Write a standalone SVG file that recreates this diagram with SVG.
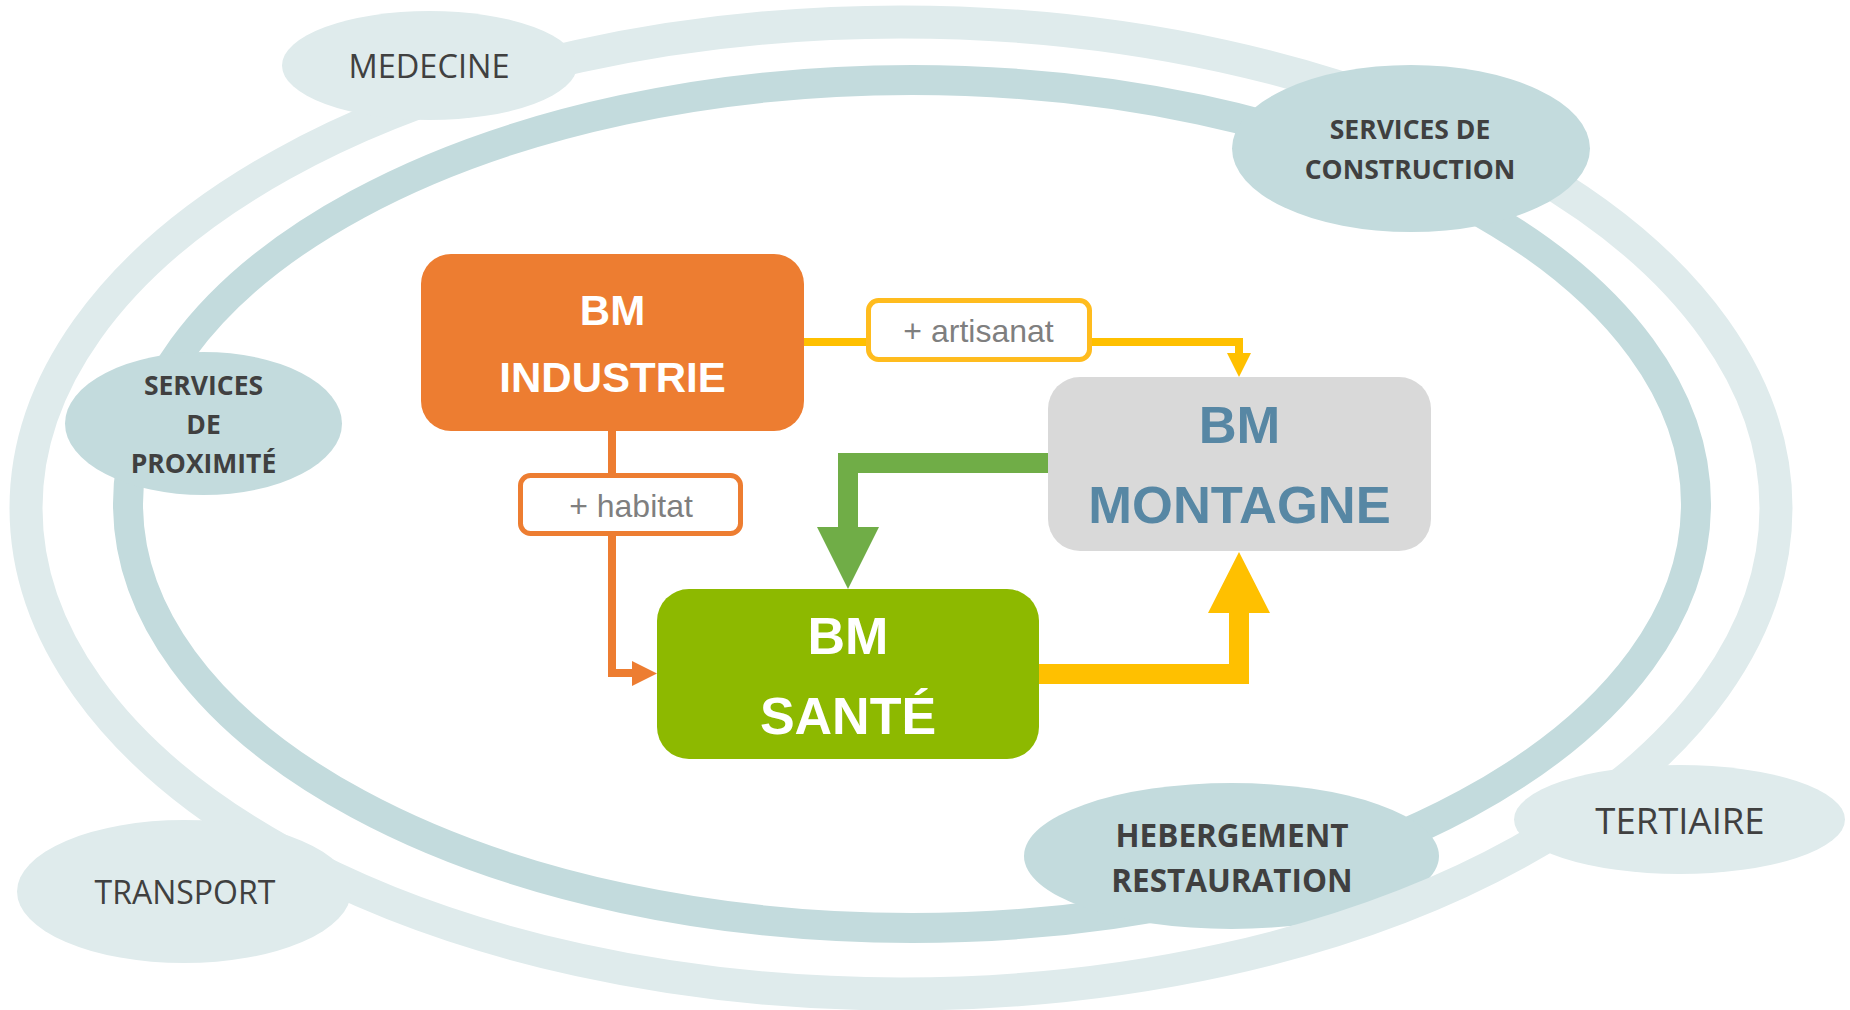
<svg xmlns="http://www.w3.org/2000/svg" width="1850" height="1010" viewBox="0 0 1850 1010">
  <style>
    .ringIn { fill: none; stroke: #C3DBDD; stroke-width: 30; }
    .ringOut { fill: none; stroke: #DFEBEC; stroke-width: 33; }
    .bubDark { fill: #C3DBDD; }
    .bubLight { fill: #DFEBEC; }
    .bt { font-family: "Open Sans", "Noto Sans", "DejaVu Sans", sans-serif; fill: #404040; text-anchor: middle; }
    .bb { font-weight: bold; }
    .box { font-family: "Liberation Sans", Arial, sans-serif; font-weight: bold; text-anchor: middle; }
    .lbl { font-family: "Liberation Sans", Arial, sans-serif; fill: #7F7F7F; text-anchor: middle; font-size: 32px; }
  </style>
  <rect width="1850" height="1010" fill="#FFFFFF"/>

  <g id="ring-inner">
    <ellipse class="ringIn" cx="912" cy="504" rx="784" ry="424"/>
  </g>
  <g id="hebergement">
    <ellipse class="bubDark" cx="1231.5" cy="856" rx="207.5" ry="73"/>
    <text class="bt bb" x="1232" y="847" font-size="31.5">HEBERGEMENT</text>
    <text class="bt bb" x="1232" y="892" font-size="31.5">RESTAURATION</text>
  </g>
  <g id="proximite">
    <ellipse class="bubDark" cx="203.5" cy="423.5" rx="138.5" ry="71.5"/>
    <text class="bt bb" x="203.5" y="395" font-size="26.5">SERVICES</text>
    <text class="bt bb" x="203.5" y="434" font-size="26.5">DE</text>
    <text class="bt bb" x="203.5" y="473" font-size="26.5">PROXIMITÉ</text>
  </g>
  <g id="ring-outer">
    <ellipse class="ringOut" cx="901" cy="508" rx="875" ry="486"/>
  </g>
  <g id="medecine">
    <ellipse class="bubLight" cx="429.5" cy="65.5" rx="147.5" ry="54.5"/>
    <text class="bt" x="429" y="78" font-size="32.5">MEDECINE</text>
  </g>
  <g id="transport">
    <ellipse class="bubLight" cx="184" cy="891.5" rx="167" ry="71.5"/>
    <text class="bt" x="185" y="904" font-size="32">TRANSPORT</text>
  </g>
  <g id="tertiaire">
    <ellipse class="bubLight" cx="1679.5" cy="819.5" rx="165.5" ry="54.5"/>
    <text class="bt" x="1680" y="834" font-size="36.5">TERTIAIRE</text>
  </g>
  <g id="construction">
    <ellipse class="bubDark" cx="1411" cy="148.5" rx="179" ry="83.5"/>
    <text class="bt bb" x="1410" y="139" font-size="26.5">SERVICES DE</text>
    <text class="bt bb" x="1410" y="179" font-size="26.5">CONSTRUCTION</text>
  </g>

  <g id="connectors">
    <!-- industrie -> montagne via artisanat -->
    <line x1="804" y1="342" x2="868" y2="342" stroke="#FFC000" stroke-width="8"/>
    <path d="M1090,342 H1239 V355" fill="none" stroke="#FFC000" stroke-width="8"/>
    <polygon points="1227,353 1251,353 1239,377" fill="#FFC000"/>
    <!-- industrie -> sante via habitat -->
    <line x1="612" y1="430" x2="612" y2="475" stroke="#ED7D31" stroke-width="8"/>
    <path d="M612,534 V673 H634" fill="none" stroke="#ED7D31" stroke-width="8"/>
    <polygon points="632,661 632,686 657,673.5" fill="#ED7D31"/>
    <!-- montagne -> sante -->
    <polygon points="1048,453 838,453 838,527 817,527 848,589 879,527 858,527 858,473 1048,473" fill="#70AD47"/>
    <!-- sante -> montagne -->
    <polygon points="1039,664 1229,664 1229,613 1208,613 1239,552 1270,613 1249,613 1249,684 1039,684" fill="#FFC000"/>
  </g>

  <g id="label-artisanat">
    <rect x="868.5" y="300.5" width="221" height="59" rx="10" fill="#FFFFFF" stroke="#FFBC1E" stroke-width="5"/>
    <text class="lbl" x="978.5" y="342">+ artisanat</text>
  </g>
  <g id="label-habitat">
    <rect x="520.5" y="475.5" width="220" height="58" rx="10" fill="#FFFFFF" stroke="#ED7D31" stroke-width="5"/>
    <text class="lbl" x="631" y="517">+ habitat</text>
  </g>

  <g id="bm-industrie">
    <rect x="421" y="254" width="383" height="177" rx="30" fill="#ED7D31"/>
    <text class="box" x="612.5" y="325" font-size="42" fill="#FFFFFF">BM</text>
    <text class="box" x="612.5" y="392" font-size="42" fill="#FFFFFF">INDUSTRIE</text>
  </g>
  <g id="bm-montagne">
    <rect x="1048" y="377" width="383" height="174" rx="32" fill="#D9D9D9"/>
    <text class="box" x="1239.5" y="443" font-size="52.5" fill="#5787A4">BM</text>
    <text class="box" x="1239.5" y="523" font-size="52.5" fill="#5787A4">MONTAGNE</text>
  </g>
  <g id="bm-sante">
    <rect x="657" y="589" width="382" height="170" rx="32" fill="#8DB900"/>
    <text class="box" x="848" y="654" font-size="52" fill="#FFFFFF">BM</text>
    <text class="box" x="848" y="734" font-size="52" fill="#FFFFFF">SANTÉ</text>
  </g>
</svg>
